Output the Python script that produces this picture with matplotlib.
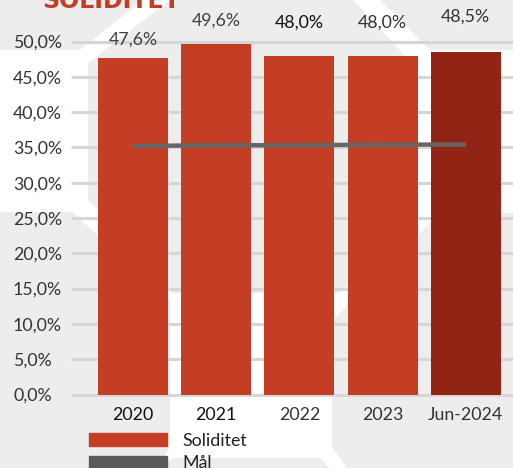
import matplotlib.pyplot as plt
import numpy as np
from matplotlib.patches import Patch, Polygon

categories = ["2020", "2021", "2022", "2023", "Jun-2024"]
soliditet = [47.6, 49.6, 48.0, 48.0, 48.5]
maal = [35.2, 35.3, 35.3, 35.4, 35.4]
value_labels = ["47,6%", "49,6%", "48,0%", "48,0%", "48,5%"]
y_ticks = [0, 5, 10, 15, 20, 25, 30, 35, 40, 45, 50]

RED = "#c43e26"
DARK_RED = "#922416"
GREY_BG = "#ededed"
FS = 12.8

plt.rcParams["font.family"] = ["Lato", "DejaVu Sans"]

W, H = 513, 468
fig = plt.figure(figsize=(W / 100, H / 100), dpi=100, facecolor=GREY_BG)


def px(points):
    # pixel coords (y down) -> figure fraction
    return [(x / W, 1 - y / H) for x, y in points]


# decorative hexagon pattern behind the chart
white_band = [(0, 50), (80, 50), (143, 0), (380, 0), (430, 50), (513, 50),
              (513, 213), (440, 213), (332, 321), (332, 447), (347, 468),
              (157, 468), (170, 447), (170, 300), (72, 212), (0, 212)]
inner_hex = [(88, 63), (170, 0), (353, 0), (418, 70), (418, 215),
             (340, 293), (172, 293), (88, 200)]
lower_hex = [(172, 458), (320, 458), (330, 468), (162, 468)]
for shape, col in [(white_band, "white"), (inner_hex, GREY_BG), (lower_hex, GREY_BG)]:
    fig.add_artist(Polygon(px(shape), closed=True, transform=fig.transFigure,
                           facecolor=col, edgecolor="none", zorder=-1))

ax = fig.add_axes([71 / W, 1 - 394.5 / H, (513 - 71) / W, (394.5 - 41.5) / H])
ax.patch.set_visible(False)
xmin, xmax = -0.745, 4.567
ax.set_xlim(xmin, xmax)
ax.set_ylim(0, 50)

x = np.arange(len(categories))
bar_colors = [RED] * (len(categories) - 1) + [DARK_RED]
ax.bar(x, soliditet, width=0.84, color=bar_colors, zorder=2)
ax.plot(x, maal, color="#666666", lw=3.2, solid_capstyle="butt", zorder=3)
ax.hlines(y_ticks, xmin, xmax, color="#d6d6d6", lw=2.2, zorder=1, clip_on=False)

for s in ax.spines.values():
    s.set_visible(False)

ax.set_yticks(y_ticks)
ax.set_yticklabels([f"{v:.1f}".replace(".", ",") + "%" for v in y_ticks])
ax.tick_params(axis="y", length=0, pad=58 * 0.72, labelsize=FS, labelcolor="#333333")
for lbl in ax.get_yticklabels():
    lbl.set_horizontalalignment("left")

ax.set_xticks(x, categories)
ax.tick_params(axis="x", length=0, pad=9, labelsize=FS)
for i, lbl in enumerate(ax.get_xticklabels()):
    lbl.set_color("#111111" if i < 2 else "#333333")

label_offsets = [18.5, 24, 33, 32.6, 35]
label_colors = ["#404040", "#404040", "#111111", "#333333", "#333333"]
for xi, v, txt, off, c in zip(x, soliditet, value_labels, label_offsets, label_colors):
    ax.annotate(txt, (xi, v), xytext=(0, off), textcoords="offset pixels",
                ha="center", va="center", fontsize=FS, color=c,
                annotation_clip=False)

fig.text(42 / W, 1 - 8 / H, "SOLIDITET", color=RED, fontsize=17,
         fontweight="bold", family=["Liberation Sans Narrow", "DejaVu Sans"],
         ha="left", va="baseline")

handles = [Patch(color=RED), Patch(color="#595959")]
fig.legend(handles, ["Soliditet", "Mål"], loc="upper left",
           bbox_to_anchor=(89 / W, 1 - 433 / H), frameon=False, fontsize=FS,
           handlelength=4.4, handleheight=0.75, handletextpad=0.85,
           labelspacing=0.35, borderpad=0, borderaxespad=0,
           labelcolor="#222222")

fig.savefig("out.png", dpi=100, facecolor=GREY_BG)
